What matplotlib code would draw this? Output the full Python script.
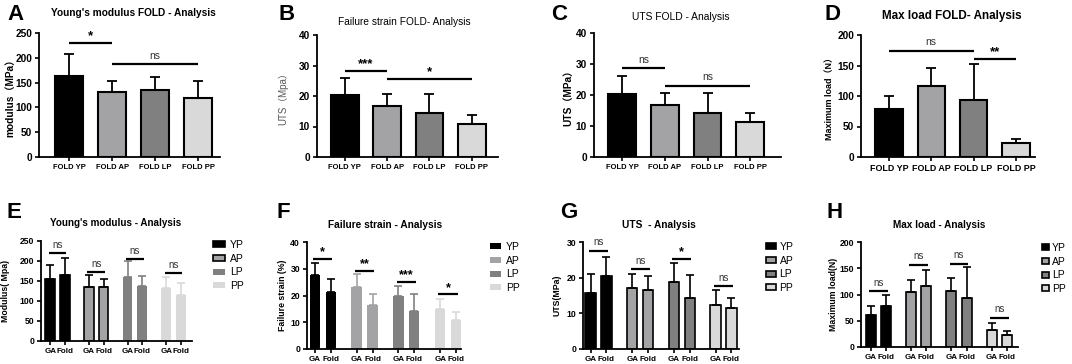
import numpy as np
import matplotlib
matplotlib.use('Agg')
import matplotlib.pyplot as plt
from matplotlib.patches import Patch

plt.rcParams['font.family'] = ['Liberation Sans', 'Noto Sans CJK SC', 'DejaVu Sans']

W, H = 1072, 364

groups = ['YP', 'AP', 'LP', 'PP']
fold_labels = ['FOLD YP', 'FOLD AP', 'FOLD LP', 'FOLD PP']
pair_labels = ['GA', 'Fold']
colours = ['#000000', '#a3a3a5', '#808080', '#d9d9d9']

# top row: FOLD groups (mean, SD)
a_mean = [163, 132, 135, 119]
a_sd = [44, 21, 26, 34]
b_mean = [20.3, 16.7, 14.3, 10.8]
b_sd = [5.7, 3.8, 6.5, 3.1]
c_mean = [20.4, 16.7, 14.2, 11.4]
c_sd = [5.6, 3.8, 6.5, 2.8]
d_mean = [79, 116, 94, 23]
d_sd = [21, 30, 58, 7]

# bottom row: GA vs Fold per group
e_ga = [156, 134, 161, 132]
e_ga_sd = [34, 31, 38, 27]
e_fold = [165, 134, 137, 114]
e_fold_sd = [43, 20, 25, 31]
f_ga = [27.5, 23.3, 20.0, 14.9]
f_ga_sd = [4.5, 4.6, 3.7, 3.8]
f_fold = [21.2, 16.6, 14.1, 11.0]
f_fold_sd = [5.0, 3.8, 6.6, 2.8]
g_ga = [15.7, 17.1, 18.9, 12.4]
g_ga_sd = [5.3, 4.0, 5.2, 4.2]
g_fold = [20.4, 16.6, 14.3, 11.5]
g_fold_sd = [5.5, 3.8, 6.4, 2.8]
h_ga = [61, 104, 106, 33]
h_ga_sd = [16.5, 23, 26, 12.7]
h_fold = [79, 116, 94, 23.5]
h_fold_sd = [21, 30, 58, 7]

# significance: (from, to, height, label)
a_sig = [(0, 1, 230, '*'), (1, 3, 187, 'ns')]
b_sig = [(0, 1, 28.3, '***'), (1, 3, 25.7, '*')]
c_sig = [(0, 1, 28.6, 'ns'), (1, 3, 22.9, 'ns')]
d_sig = [(0, 2, 174, 'ns'), (2, 3, 161, '**')]
e_sig = [219, 173, 206, 169]
e_sig_lab = ['ns', 'ns', 'ns', 'ns']
f_sig = [33.6, 29.1, 25.0, 20.4]
f_sig_lab = ['*', '**', '***', '*']
g_sig = [27.6, 22.4, 25.2, 17.6]
g_sig_lab = ['ns', 'ns', '*', 'ns']
h_sig = [107, 157, 159, 56]
h_sig_lab = ['ns', 'ns', 'ns', 'ns']

fig = plt.figure(figsize=(W / 100, H / 100), dpi=100)


def px_axes(left, top, right, bottom):
    return fig.add_axes([left / W, 1 - bottom / H, (right - left) / W, (bottom - top) / H])


def fig_text(x, y, s, **kw):
    fig.text(x / W, 1 - y / H, s, **kw)


def style(ax, box, ymax, ystep, xlim, ysize, ylabel, ylabel_x, ylab_kw):
    for s in ('top', 'right'):
        ax.spines[s].set_visible(False)
    for s in ('left', 'bottom'):
        ax.spines[s].set_linewidth(1.3)
    ax.set_ylim(0, ymax)
    ax.set_yticks(np.arange(0, ymax + ystep / 2, ystep))
    ax.set_xlim(*xlim)
    ax.tick_params(width=1.2, length=3, pad=2)
    for t in ax.get_yticklabels():
        t.set_fontsize(ysize)
        t.set_fontweight('bold')
    ax.set_ylabel(ylabel, **ylab_kw)
    ax.yaxis.set_label_coords((ylabel_x - box[0]) / (box[2] - box[0]), 0.5)


def sig_mark(ax, x1, x2, y, label, dy, sz=8):
    ax.plot([x1, x2], [y, y], color='black', lw=1.6, solid_capstyle='butt')
    if label == 'ns':
        ax.text((x1 + x2) / 2, y + dy, 'ns', ha='center', va='bottom', fontsize=sz, color='#333333')
    else:
        ax.text((x1 + x2) / 2, y + dy * 0.2, label, ha='center', va='bottom', fontsize=sz + 2, fontweight='bold')


def top_panel(box, mean, sd, sig, ymax, ystep, xlim, ylabel, ylabel_x, ylab_kw, tick_size):
    ax = px_axes(*box)
    x = np.arange(len(mean))
    ax.bar(x, mean, width=0.65, color=colours, edgecolor='black', linewidth=1.5)
    ax.errorbar(x, mean, yerr=[np.zeros(len(sd)), sd], fmt='none', ecolor='black',
                elinewidth=1.3, capsize=3.5, capthick=1.3)
    style(ax, box, ymax, ystep, xlim, 7.3, ylabel, ylabel_x, ylab_kw)
    ax.set_xticks(x)
    ax.set_xticklabels(fold_labels, fontsize=tick_size, fontweight='bold')
    for i, j, y, lab in sig:
        sig_mark(ax, i, j, y, lab, ymax * 0.03, sz=7.5)
    return ax


def bottom_panel(box, ga, ga_sd, fold, fold_sd, sig, sig_lab, ymax, ystep, xlim, ylabel,
                 ylabel_x, edges, legend_xy, hlen, hpad):
    ax = px_axes(*box)
    g = np.arange(len(ga))
    off = 0.19
    for k in range(len(ga)):
        ec = 'black' if edges[k] else colours[k]
        lw = 1.2 if edges[k] else 0
        for pos, m, s in ((g[k] - off, ga[k], ga_sd[k]), (g[k] + off, fold[k], fold_sd[k])):
            ax.bar(pos, m, width=0.25, color=colours[k], edgecolor=ec, linewidth=lw)
            ax.errorbar(pos, m, yerr=[[0], [s]], fmt='none', ecolor=ec, elinewidth=1.2,
                        capsize=3, capthick=1.2)
    style(ax, box, ymax, ystep, xlim, 6.2, ylabel, ylabel_x, dict(fontsize=6.3, fontweight='bold'))
    ticks = np.ravel(np.column_stack([g - off, g + off]))
    ax.set_xticks(ticks)
    ax.set_xticklabels(pair_labels * len(ga), fontsize=5.8, fontweight='bold')
    for k in range(len(ga)):
        sig_mark(ax, g[k] - 0.23, g[k] + 0.23, sig[k], sig_lab[k], ymax * 0.03, sz=7)
    handles = [Patch(facecolor=colours[k], edgecolor='black' if edges[k] else colours[k],
                     linewidth=1.2 if edges[k] else 0) for k in range(len(groups))]
    fig.legend(handles, groups, loc='upper left',
               bbox_to_anchor=(legend_xy[0] / W, 1 - legend_xy[1] / H),
               frameon=False, fontsize=7.5, handlelength=hlen, handleheight=0.5,
               handletextpad=hpad, labelspacing=0.35, borderaxespad=0, borderpad=0)
    return ax


# top row
top_panel((39, 33, 220, 157), a_mean, a_sd, a_sig, 250, 50, (-0.7, 3.51),
          'modulus（MPa）', 15, dict(fontsize=7.3, fontweight='bold'), 5.5)
top_panel((317, 35, 498, 157), b_mean, b_sd, b_sig, 40, 10, (-0.66, 3.62),
          'UTS（Mpa）', 288, dict(fontsize=7, color='#555555'), 5.5)
top_panel((594, 33, 781, 157), c_mean, c_sd, c_sig, 40, 10, (-0.66, 3.72),
          'UTS（MPa）', 573, dict(fontsize=7.3, fontweight='bold'), 5.5)
top_panel((861, 35, 1035, 157), d_mean, d_sd, d_sig, 200, 50, (-0.66, 3.45),
          'Maximum load（N）', 834, dict(fontsize=6.5, fontweight='bold'), 6.4)

# bottom row
bottom_panel((41, 241, 192, 341), e_ga, e_ga_sd, e_fold, e_fold_sd, e_sig, e_sig_lab,
             250, 50, (-0.43, 3.48), 'Modulus( Mpa)', 10, [True, True, False, False],
             (213, 240), 1.15, 0.5)
bottom_panel((307, 242, 461, 349), f_ga, f_ga_sd, f_fold, f_fold_sd, f_sig, f_sig_lab,
             40, 10, (-0.38, 3.31), 'Failure strain (%)', 287, [False] * 4,
             (490, 242), 1.05, 0.5)
bottom_panel((583, 242, 739, 349), g_ga, g_ga_sd, g_fold, g_fold_sd, g_sig, g_sig_lab,
             30, 10, (-0.37, 3.37), 'UTS(MPa)', 562, [True] * 4,
             (766, 242), 1.0, 0.3)
bottom_panel((861, 242, 1018, 347), h_ga, h_ga_sd, h_fold, h_fold_sd, h_sig, h_sig_lab,
             200, 50, (-0.43, 3.46), 'Maximum load(N)', 838, [True] * 4,
             (1042, 243), 0.65, 0.3)

# titles
fig_text(133, 13, "Young's modulus FOLD - Analysis", ha='center', va='center', fontsize=7.3, fontweight='bold')
fig_text(404, 22, 'Failure strain FOLD- Analysis', ha='center', va='center', fontsize=7.3)
fig_text(681, 17, 'UTS FOLD - Analysis', ha='center', va='center', fontsize=7.4)
fig_text(952, 16, 'Max load FOLD- Analysis', ha='center', va='center', fontsize=8.4, fontweight='bold')
fig_text(116, 223, "Young's modulus - Analysis", ha='center', va='center', fontsize=7.1, fontweight='bold')
fig_text(385, 225, 'Failure strain - Analysis', ha='center', va='center', fontsize=7.3, fontweight='bold')
fig_text(659, 225, 'UTS  - Analysis', ha='center', va='center', fontsize=7.3, fontweight='bold')
fig_text(939, 225, 'Max load - Analysis', ha='center', va='center', fontsize=7.2, fontweight='bold')

# panel letters
for x, y, s in [(7, 14, 'A'), (278, 15, 'B'), (551, 14, 'C'), (824, 14, 'D'),
                (7, 212, 'E'), (276, 212, 'F'), (560, 212, 'G'), (826, 212, 'H')]:
    fig_text(x, y, s, ha='left', va='center', fontsize=16, fontweight='bold')

fig.savefig('out.png', dpi=100)
